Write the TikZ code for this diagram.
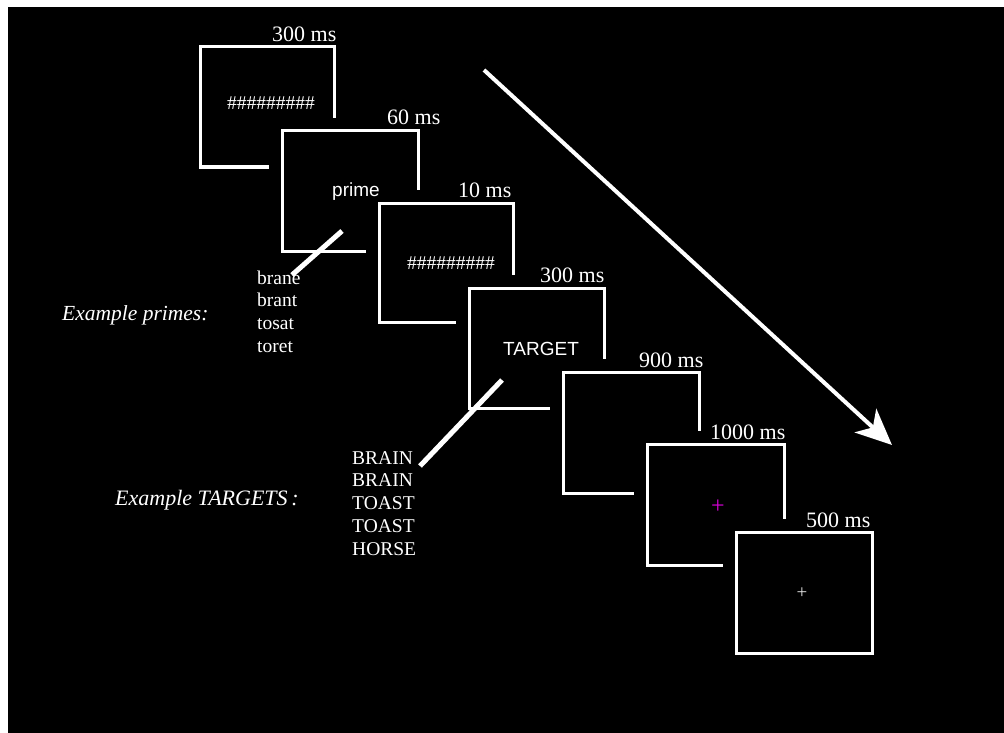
\documentclass[tikz,border=0pt]{standalone}
\usepackage{fontspec}
\setmainfont{Liberation Serif}
\newfontfamily\arialf{Liberation Sans}
\usetikzlibrary{arrows.meta}
\definecolor{fixmag}{RGB}{215,0,215}
\definecolor{fixgray}{RGB}{225,225,225}
\begin{document}
\begin{tikzpicture}[x=1pt,y=-1pt,
  stim/.style={draw=white, line width=3pt, fill=black,
    preaction={draw=black, line width=26pt}, inner sep=0pt, outer sep=0pt},
  dur/.style={text=white, anchor=base west, inner sep=0pt, font=\fontsize{22}{26}\selectfont},
  hashes/.style={text=white, anchor=base west, inner sep=0pt, font=\fontsize{19.5}{23}\selectfont},
  sanslbl/.style={text=white, anchor=base west, inner sep=0pt, font=\arialf\fontsize{19}{23}\selectfont},
  exlbl/.style={text=white, anchor=base west, inner sep=0pt, font=\itshape\fontsize{21.5}{26}\selectfont},
  word/.style={text=white, anchor=base west, inner sep=0pt, font=\fontsize{19.5}{23}\selectfont},
  ptr/.style={draw=white, line width=5pt},
  timearrow/.style={draw=white, line width=4pt, -{Stealth[length=36pt,width=32pt,inset=10pt]}}
]
\useasboundingbox (0,0) rectangle (1004,733);
\fill[white] (0,0) rectangle (1004,733);
\fill[black] (8,7) rectangle (1004,733);

% stimulus screens
\node[stim, minimum width=134pt, minimum height=120pt] (b1) at (267,107) {};
\node[stim, minimum width=136pt, minimum height=120pt] (b2) at (350,191) {};
\node[stim, minimum width=134pt, minimum height=119pt] (b3) at (446,262.5) {};
\node[stim, minimum width=135pt, minimum height=120pt] (b4) at (536.5,348) {};
\node[stim, minimum width=136pt, minimum height=121pt] (b5) at (631,432.5) {};
\node[stim, minimum width=137pt, minimum height=121pt] (b6) at (715.5,504.5) {};
\node[stim, minimum width=136pt, minimum height=121pt] (b7) at (804,592.5) {};

% durations
\node[dur] (t1) at (272,42) {300 ms};
\node[dur] (t2) at (387,125) {60 ms};
\node[dur] (t3) at (458,197) {10 ms};
\node[dur] (t4) at (540,282) {300 ms};
\node[dur] (t5) at (639,367) {900 ms};
\node[dur] (t6) at (710,439) {1000 ms};
\node[dur] (t7) at (806,527) {500 ms};

% screen contents
\node[hashes] (h1) at (227,110) {\#\#\#\#\#\#\#\#\#};
\node[sanslbl] (pr) at (332,196) {prime};
\node[hashes] (h3) at (407,269) {\#\#\#\#\#\#\#\#\#};
\node[sanslbl] (tg) at (503,355) {TARGET};
\node[text=fixmag, inner sep=0pt, font=\fontsize{24}{24}\selectfont] (fx1) at (718,507) {+};
\node[text=fixgray, inner sep=0pt, font=\fontsize{19}{19}\selectfont] (fx2) at (802,593) {+};

% examples
\node[exlbl] (exp) at (62,320) {Example primes:};
\node[word] (p1) at (257,284) {brane};
\node[word] (p2) at (257,306.7) {brant};
\node[word] (p3) at (257,329.4) {tosat};
\node[word] (p4) at (257,352) {toret};

\node[exlbl, font=\itshape\fontsize{22}{26}\selectfont] (ext) at (115,505) {Example TARGETS\,:};
\node[word] (w1) at (352,464) {BRAIN};
\node[word] (w2) at (352,486.75) {BRAIN};
\node[word] (w3) at (352,509.5) {TOAST};
\node[word] (w4) at (352,532.25) {TOAST};
\node[word] (w5) at (352,555) {HORSE};

% pointer lines
\coordinate (pl1) at (342,231);
\coordinate (pl2) at (292,275);
\draw[ptr] (pl1) -- (pl2);
\coordinate (tl1) at (502,380);
\coordinate (tl2) at (420,466);
\draw[ptr] (tl1) -- (tl2);

% time arrow
\coordinate (ta1) at (484,70);
\coordinate (ta2) at (892,445);
\draw[timearrow] (ta1) -- (ta2);
\end{tikzpicture}
\end{document}
